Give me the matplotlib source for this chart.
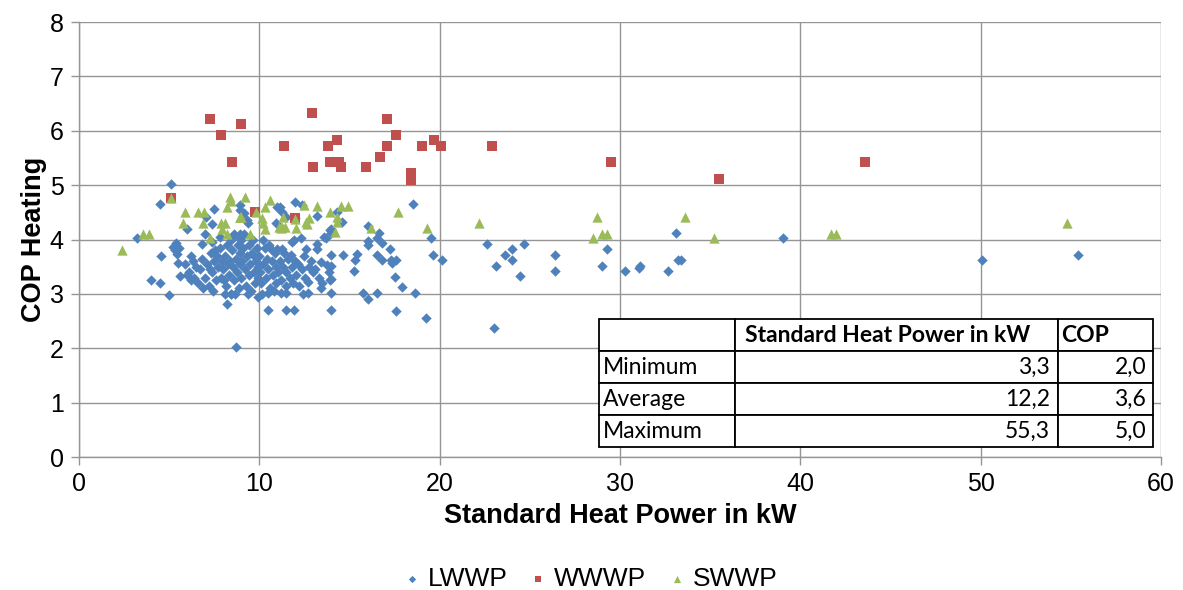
import matplotlib
matplotlib.use("Agg")
import matplotlib.pyplot as plt

plt.rcParams["font.family"] = ["Liberation Sans", "DejaVu Sans"]

# ---- data ----
lwwp_kw = [
    3.2, 4.5, 5.1, 4.0, 4.5, 5.0, 4.55, 5.6, 5.5, 5.2, 5.35, 5.55, 5.45, 5.3, 6.0, 6.8, 7.0, 7.05, 7.4, 7.5,
    5.9, 6.1, 6.2, 6.3, 6.4, 6.5, 6.6, 6.7, 6.8, 6.9, 6.2, 6.0,
    7.0, 7.1, 7.2, 7.3, 7.4, 7.5, 7.6, 7.7, 7.8, 7.9, 7.35, 7.65, 7.45, 7.95, 7.55, 7.8, 7.25,
    8.0, 8.1, 8.15, 8.2, 8.3, 8.35, 8.4, 8.5, 8.55, 8.6, 8.7, 8.75, 8.8, 8.85, 8.9, 8.95, 8.45, 8.65, 8.25, 8.05,
    8.2, 8.68, 8.9, 8.95, 8.57, 8.8, 8.9, 8.4, 8.1,
    9.0, 9.05, 9.1, 9.2, 9.25, 9.3, 9.4, 9.45, 9.5, 9.55, 9.6, 9.7, 9.75, 9.8, 9.85, 9.9, 9.95, 9.15, 9.65, 9.35,
    9.13, 9.35, 9.3, 9.0, 9.9, 9.7,
    10.0, 10.05, 10.1, 10.2, 10.3, 10.35, 10.4, 10.5, 10.55, 10.6, 10.7, 10.75, 10.85, 10.9, 10.95, 10.2, 10.65, 11.0,
    10.5, 10.5, 10.98, 10.9, 10.15, 10.8,
    11.05, 11.15, 11.2, 11.3, 11.35, 11.45, 11.5, 11.6, 11.7, 11.75, 11.8, 11.85, 11.95, 11.8, 11.9, 11.25,
    11.2, 11.5, 11.5, 11.9, 11.25, 11.45, 11.17,
    12.05, 12.15, 12.2, 12.3, 12.35, 12.45, 12.55, 12.6, 12.75, 12.85, 12.95, 12.7, 12.7, 12.0, 12.37, 12.0, 12.4,
    13.1, 13.2, 13.2, 13.3, 13.4, 13.5, 13.67, 13.76, 13.85, 13.94, 13.94, 13.4, 13.2, 13.6,
    14.0, 14.0, 14.0, 14.0, 14.0, 14.0, 14.0, 14.6, 14.65, 15.24, 15.33, 15.43, 15.74, 16.02, 16.53, 16.0, 16.0,
    16.02, 16.53, 16.63, 16.8, 16.53, 16.8, 17.24, 17.28, 17.55, 17.37, 17.5, 17.93, 18.63, 17.56, 19.26, 18.54,
    19.54, 19.63, 20.15, 14.3,
    22.6, 23.1, 23.6, 24.0, 24.0, 24.45, 24.7, 26.4, 26.4, 29.0, 29.3, 30.25, 31.1, 31.05, 32.65, 33.1, 33.2, 33.4,
    39.05, 50.1, 55.4, 23.0,
]
lwwp_cop = [
    4.03, 4.65, 5.03, 3.25, 3.2, 2.98, 3.7, 3.32, 3.56, 3.87, 3.93, 3.84, 3.73, 3.8, 4.2, 3.92, 4.1, 4.42, 4.28, 4.57,
    3.55, 3.4, 3.25, 3.6, 3.3, 3.5, 3.2, 3.45, 3.65, 3.1, 3.7, 3.35,
    3.3, 3.55, 3.15, 3.75, 3.4, 3.6, 3.25, 3.5, 3.85, 3.3, 3.95, 3.7, 3.05, 3.6, 3.8, 4.05, 3.45,
    3.45, 3.7, 3.15, 3.9, 3.35, 3.6, 3.0, 3.8, 3.5, 3.25, 3.65, 3.4, 3.9, 3.1, 3.55, 3.75, 4.0, 3.0, 3.55, 3.25,
    2.82, 2.02, 4.55, 4.63, 4.11, 4.05, 4.1, 2.99, 3.0,
    3.3, 3.6, 3.85, 3.45, 3.15, 3.7, 3.35, 3.9, 3.55, 3.05, 3.75, 3.4, 3.2, 3.6, 3.85, 3.3, 3.5, 4.1, 4.0, 3.0,
    4.48, 4.3, 4.35, 4.0, 2.95, 3.7,
    3.7, 3.4, 3.2, 3.55, 3.85, 3.3, 3.65, 3.45, 3.9, 3.1, 3.6, 3.35, 3.75, 3.2, 3.5, 4.0, 3.83, 3.83,
    2.71, 3.02, 4.6, 4.31, 3.0, 3.05,
    3.4, 3.6, 3.25, 3.5, 3.75, 3.15, 3.4, 3.65, 3.3, 3.71, 3.5, 3.2, 3.6, 3.96, 3.99, 3.83,
    3.02, 3.02, 2.71, 2.71, 4.51, 4.42, 4.59,
    3.35, 3.55, 3.15, 4.02, 3.45, 3.7, 3.3, 3.82, 3.5, 3.6, 3.4, 3.02, 3.22, 4.69, 4.63, 4.4, 3.0,
    3.45, 3.92, 3.82, 3.3, 3.59, 3.2, 4.02, 3.53, 3.4, 4.17, 3.26, 3.1, 4.43, 4.04,
    3.02, 2.71, 3.27, 3.51, 3.71, 4.12, 4.2, 4.33, 3.71, 3.42, 3.62, 3.73, 3.02, 2.9, 3.02, 3.9, 3.98,
    4.25, 4.02, 4.12, 3.93, 3.71, 3.63, 3.82, 3.62, 3.62, 3.56, 3.31, 3.12, 3.02, 2.69, 2.55, 4.66,
    4.02, 3.71, 3.62, 4.5,
    3.92, 3.52, 3.72, 3.82, 3.62, 3.33, 3.92, 3.72, 3.42, 3.52, 3.82, 3.42, 3.52, 3.48, 3.42, 4.12, 3.62, 3.62,
    4.02, 3.62, 3.72, 2.38,
]

wwwp_kw = [5.09, 7.28, 9.0, 7.9, 8.5, 9.76, 12.0, 12.9, 11.39, 13.8, 14.3, 12.98, 13.94, 14.44, 14.5,
           15.9, 17.1, 17.6, 17.1, 16.7, 18.4, 18.4, 19.0, 19.7, 20.05, 22.9, 29.5, 35.5, 43.6]
wwwp_cop = [4.77, 6.21, 6.12, 5.92, 5.42, 4.51, 4.39, 6.32, 5.72, 5.72, 5.83, 5.33, 5.43, 5.43, 5.33,
            5.33, 6.21, 5.92, 5.72, 5.52, 5.23, 5.1, 5.72, 5.83, 5.72, 5.72, 5.42, 5.12, 5.42]

swwp_kw = [2.41, 3.57, 3.89, 5.09, 5.89, 5.74, 6.57, 6.91, 6.89, 7.28, 7.87, 8.09, 7.93, 8.2, 8.39, 8.43,
           8.2, 9.2, 8.9, 9.0, 9.5, 9.8, 10.15, 10.2, 10.3, 10.6, 10.3, 8.94, 11.3, 11.26, 11.1, 11.4,
           12.04, 12.5, 13.2, 12.74, 12.6, 13.94, 14.3, 14.2, 14.5, 14.9, 12.0, 12.65, 11.2, 14.3,
           16.2, 17.7, 19.3, 22.2, 28.7, 29.0, 29.3, 28.5, 33.6, 35.2, 41.7, 42.0, 54.8]
swwp_cop = [3.8, 4.11, 4.11, 4.77, 4.51, 4.31, 4.51, 4.51, 4.31, 4.02, 4.31, 4.31, 4.2, 4.6, 4.78, 4.7,
            4.11, 4.78, 4.42, 4.42, 4.11, 4.51, 4.4, 4.31, 4.6, 4.72, 4.2, 4.42, 4.42, 4.23, 4.23, 4.23,
            4.22, 4.63, 4.61, 4.4, 4.33, 4.51, 4.42, 4.14, 4.61, 4.61, 4.37, 4.29, 4.22, 4.33,
            4.22, 4.51, 4.22, 4.31, 4.42, 4.11, 4.11, 4.02, 4.42, 4.02, 4.11, 4.11, 4.31]

table_rows = ["Minimum", "Average", "Maximum"]
table_cols = ["", "Standard Heat Power in kW", "COP"]
table_power = ["3,3", "12,2", "55,3"]
table_cop = ["2,0", "3,6", "5,0"]

BLUE, RED, GREEN = "#4F81BD", "#C0504D", "#9BBB59"
GRID = "#959595"

fig = plt.figure(figsize=(11.83, 5.9), dpi=100)
ax = fig.add_axes([0.0668, 0.2254, 0.9146, 0.7373])

ax.scatter(lwwp_kw, lwwp_cop, marker="D", s=28, color=BLUE, linewidths=0, label="LWWP", zorder=3)
ax.scatter(wwwp_kw, wwwp_cop, marker="s", s=46, color=RED, linewidths=0, label="WWWP", zorder=4)
ax.scatter(swwp_kw, swwp_cop, marker="^", s=55, color=GREEN, linewidths=0, label="SWWP", zorder=5)

ax.set_xlim(0, 60)
ax.set_ylim(0, 8)
ax.set_xticks(range(0, 61, 10))
ax.set_yticks(range(0, 9))
ax.grid(True, color=GRID, linewidth=1.0, zorder=0)
ax.set_axisbelow(True)
for side in ("top", "right"):
    ax.spines[side].set_visible(False)
for side in ("left", "bottom"):
    ax.spines[side].set_color(GRID)
    ax.spines[side].set_linewidth(1.0)
ax.tick_params(axis="both", colors=GRID, labelcolor="black", labelsize=18, length=6, width=1.0)
ax.tick_params(axis="x", pad=5)
ax.tick_params(axis="y", pad=5)

ax.set_xlabel("Standard Heat Power in kW", fontsize=19.5, fontweight="bold", labelpad=5)
ax.set_ylabel("COP Heating", fontsize=19.5, fontweight="bold", labelpad=2)

# summary table inside the plot area
cell_text = [[""] + table_cols[1:]] + [[r, p, c] for r, p, c in zip(table_rows, table_power, table_cop)]
tbl = ax.table(cellText=cell_text, colWidths=[0.2455, 0.583, 0.1715],
               bbox=[0.4806, 0.023, 0.512, 0.2942], zorder=6)
tbl.auto_set_font_size(False)
for (r, c), cell in tbl.get_celld().items():
    cell.set_edgecolor("black")
    cell.set_linewidth(1.3)
    cell.set_facecolor("white")
    txt = cell.get_text()
    txt.set_fontfamily(["Lato", "DejaVu Sans"])
    txt.set_fontsize(16.5)
    if r == 0:
        txt.set_fontweight("bold")
        cell.set_text_props(ha="left")
        cell.PAD = 0.03
    elif c == 0:
        cell.set_text_props(ha="left")
        cell.PAD = 0.03
    else:
        cell.set_text_props(ha="right")
        cell.PAD = 0.025 if c == 1 else 0.07

handles, labels = ax.get_legend_handles_labels()
fig.legend(handles, labels, loc="lower center", bbox_to_anchor=(0.496, -0.042), ncol=3,
           frameon=False, fontsize=19, markerscale=0.7, handletextpad=0.0, columnspacing=0.55,
           handlelength=1.2)

fig.savefig("out.png", dpi=100)
